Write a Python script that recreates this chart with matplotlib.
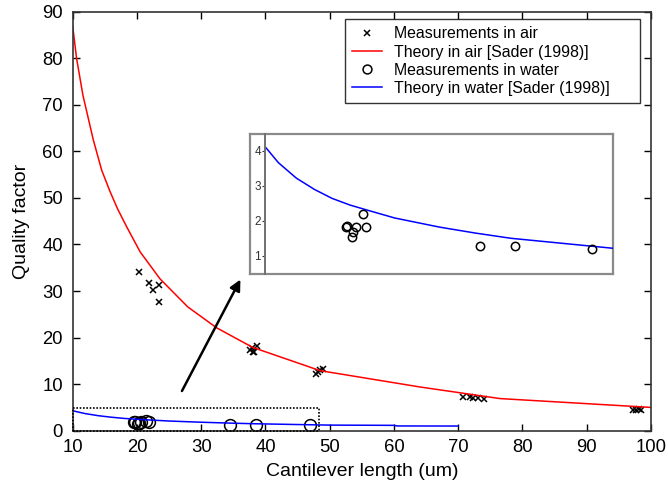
import matplotlib
matplotlib.use("Agg")
import matplotlib.pyplot as plt
from matplotlib.patches import Rectangle

plt.rcParams.update({
    "font.family": ["Liberation Sans", "DejaVu Sans"],
    "font.size": 13,
})

# measurements in air
air_len = [20.3, 21.9, 22.5, 23.4, 23.5, 37.6, 38.0, 38.2, 38.7, 37.9,
           47.8, 48.1, 48.5, 48.9, 70.7, 71.9, 72.3, 73.1, 74.0,
           97.2, 97.7, 98.1, 98.5]
air_q = [34.1, 31.8, 30.2, 31.4, 27.7, 17.4, 17.0, 16.8, 18.1, 17.8,
         12.2, 12.7, 13.0, 13.2, 7.3, 7.2, 7.1, 7.0, 6.8,
         4.5, 4.4, 4.6, 4.5]

# theory in air
air_th_len = [10, 10.6, 11.6, 13.2, 14.5, 15.8, 17.0, 18.4, 20.5, 23.6,
              27.9, 32.4, 38, 48.5, 64, 76.5, 100]
air_th_q = [86.9, 80, 72, 62.5, 56, 51.4, 47.6, 43.8, 38.4, 32.6,
            26.6, 22.1, 17.9, 12.9, 9.4, 6.9, 5.0]

# measurements in water
wat_len = [19.7, 19.6, 20.3, 20.2, 20.7, 21.4, 21.8, 34.5, 38.5, 47.0]
wat_q = [1.85, 1.81, 1.69, 1.53, 1.81, 2.19, 1.82, 1.28, 1.28, 1.2]

# theory in water
wat_th_len = [10, 10.5, 12, 14, 16, 18, 20, 22, 25, 30, 34, 38, 42, 46,
              50, 60, 60.5, 70]
wat_th_q = [4.3, 4.12, 3.66, 3.22, 2.9, 2.64, 2.45, 2.3, 2.08, 1.82,
            1.65, 1.5, 1.4, 1.3, 1.2, 1.15, 1.02, 1.0]

W, H = 668, 492
fig = plt.figure(figsize=(W / 100, H / 100), dpi=100)
ax = fig.add_axes([72.7 / W, 1 - 430.7 / H, (651 - 72.7) / W, (430.7 - 11.7) / H])

ax.plot(air_len, air_q, "x", color="black", ms=5, mew=1.1,
        label="Measurements in air")
ax.plot(air_th_len, air_th_q, "-", color="#ff0000", lw=1.1,
        label="Theory in air [Sader (1998)]")
ax.plot(wat_len, wat_q, "o", mfc="none", mec="black", ms=8.5, mew=1.1,
        label="Measurements in water")
ax.plot(wat_th_len, wat_th_q, "-", color="#0000ff", lw=1.1,
        label="Theory in water [Sader (1998)]")

ax.add_patch(Rectangle((10, 0), 38.4, 4.95, fill=False, ls=(0, (1, 1)),
                       lw=1.2, ec="black", zorder=5, clip_on=False))
ax.annotate("", xy=(36.3, 33.0), xytext=(26.8, 8.0),
            arrowprops=dict(arrowstyle="-|>", color="black", lw=1.8,
                            mutation_scale=16))

ax.set_xlim(10, 100)
ax.set_ylim(0, 90)
ax.set_xticks(range(10, 101, 10))
ax.set_yticks(range(0, 91, 10))
ax.tick_params(direction="in", top=True, right=True, length=5, width=1,
               labelsize=13.3)
ax.tick_params(axis="x", pad=6)
ax.tick_params(axis="y", pad=7)
for s in ax.spines.values():
    s.set_color("#333333")
    s.set_linewidth(1.2)
ax.set_xlabel("Cantilever length (um)", fontsize=14, labelpad=5)
ax.set_ylabel("Quality factor", fontsize=14, labelpad=9)

leg = ax.legend(loc="upper left", bbox_to_anchor=(0.4709, 0.7814, 0.5108, 0.2005),
                mode="expand", fontsize=11.4, frameon=True, fancybox=False,
                labelspacing=0.2, handlelength=1.9, handletextpad=0.75,
                borderpad=0.45, borderaxespad=0, markerscale=0.75)
leg.get_frame().set_edgecolor("black")
leg.get_frame().set_linewidth(1.0)

# inset frame and inset axes
frame = fig.add_axes([250 / W, 1 - 274 / H, 363 / W, 140 / H])
frame.set_xticks([])
frame.set_yticks([])
for s in frame.spines.values():
    s.set_color("#8a8a8a")
    s.set_linewidth(1.6)

ins = fig.add_axes([265 / W, 1 - 274 / H, 348 / W, 140 / H])
ins.patch.set_alpha(0)
ins.plot(wat_th_len, wat_th_q, "-", color="#0000ff", lw=1.1)
ins.plot(wat_len, wat_q, "o", mfc="none", mec="black", ms=6, mew=1.1)
ins.set_xlim(10.5, 49.4)
ins.set_ylim(0.48, 4.48)
ins.set_xticks([])
ins.set_yticks([1, 2, 3, 4])
ins.tick_params(axis="y", direction="out", length=2, width=0.8,
                labelsize=8.5, pad=1, colors="#333333")
for k in ("top", "right", "bottom"):
    ins.spines[k].set_visible(False)
ins.spines["left"].set_color("#707070")
ins.spines["left"].set_linewidth(1.4)

fig.savefig("out.png", dpi=100)
